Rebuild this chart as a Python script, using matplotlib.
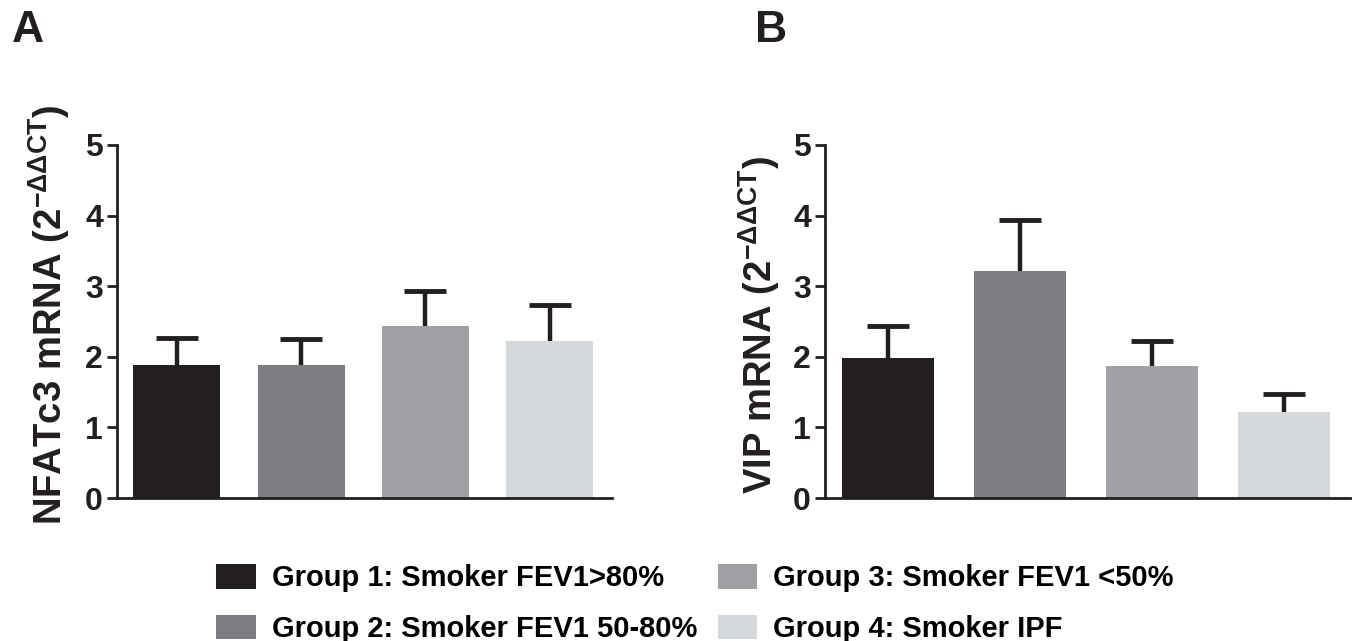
import numpy as np
import matplotlib.pyplot as plt
from matplotlib.patches import Patch

plt.rcParams['font.family'] = ['Liberation Sans', 'DejaVu Sans']
plt.rcParams['font.weight'] = 'bold'
plt.rcParams['mathtext.fontset'] = 'custom'
plt.rcParams['mathtext.rm'] = 'Liberation Sans'
plt.rcParams['mathtext.bf'] = 'Liberation Sans:bold'

# data
groups = ['Group 1: Smoker FEV1>80%', 'Group 2: Smoker FEV1 50-80%',
          'Group 3: Smoker FEV1 <50%', 'Group 4: Smoker IPF']
colors = ['#231f20', '#7b7d80', '#a1a1a5', '#d6d9db']

nfatc3_mean = [1.89, 1.89, 2.44, 2.23]
nfatc3_err = [0.37, 0.36, 0.49, 0.50]

vip_mean = [1.98, 3.22, 1.87, 1.22]
vip_err = [0.46, 0.72, 0.36, 0.26]

fig = plt.figure(figsize=(13.67, 6.41), dpi=100)


def draw_panel(ax, means, errs, ylabel, label_xy):
    x = np.arange(len(means))
    ax.bar(x, means, width=0.7, color=colors, zorder=2)
    _, caps, _ = ax.errorbar(x, means, yerr=[np.zeros(len(errs)), errs], fmt='none',
                             ecolor='#231f20', elinewidth=3.2, capsize=15,
                             capthick=3.5, zorder=1)
    caps[0].set_visible(False)  # only the upper half of the error bar is shown
    ax.set_xlim(-0.48, 3.5)
    ax.set_ylim(0, 5)
    ax.set_yticks([0, 1, 2, 3, 4, 5])
    ax.set_xticks([])
    for s in ['top', 'right']:
        ax.spines[s].set_visible(False)
    for s in ['left', 'bottom']:
        ax.spines[s].set_linewidth(2)
        ax.spines[s].set_color('#231f20')
    ax.tick_params(axis='y', length=7, width=2, labelsize=23, pad=3, colors='#231f20')
    ax.set_ylabel(ylabel, fontsize=27.5, fontweight='bold', va='baseline', color='#231f20')
    ax.yaxis.set_label_coords(*label_xy)


axA = fig.add_axes([117 / 1367, 1 - 498 / 641, 495 / 1367, 353 / 641])
draw_panel(axA, nfatc3_mean, nfatc3_err,
           r'NFATc3 mRNA (2$^{\mathrm{-\Delta\Delta CT}}$)', (-0.111, 0.52))

axB = fig.add_axes([825 / 1367, 1 - 498 / 641, 525 / 1367, 353 / 641])
draw_panel(axB, vip_mean, vip_err,
           r'VIP mRNA (2$^{\mathrm{-\Delta\Delta CT}}$)', (-0.101, 0.49))

fig.text(12 / 1367, 1 - 42 / 641, 'A', fontsize=32, fontweight='bold', color='#231f20')
fig.text(755 / 1367, 1 - 42 / 641, 'B', fontsize=32, fontweight='bold', color='#231f20')

handles = [Patch(facecolor=c, edgecolor='none') for c in colors]
fig.legend(handles, groups, ncol=2, loc='upper left',
           bbox_to_anchor=(216 / 1367, 1 - 564 / 641), frameon=False,
           fontsize=21, handlelength=1.36, handleheight=0.92,
           handletextpad=0.55, columnspacing=0.7, labelspacing=0.76,
           borderpad=0, borderaxespad=0)

fig.savefig('out.png', dpi=100)
